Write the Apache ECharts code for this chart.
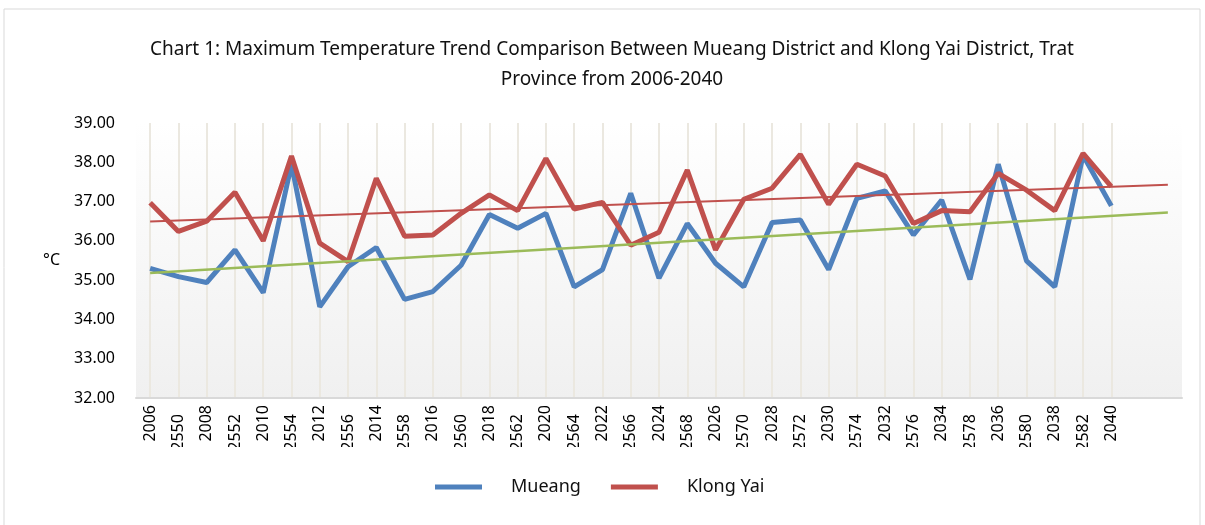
<!DOCTYPE html>
<html>
<head>
<meta charset="utf-8">
<script src="https://cdn.jsdelivr.net/npm/echarts@6/dist/echarts.min.js"></script>
<style>
  html,body{margin:0;padding:0;background:#fff;}
  #chart{width:1205px;height:525px;}
</style>
</head>
<body>
<div id="chart"></div>
<script>
var years = ['2006','2550','2008','2552','2010','2554','2012','2556','2014','2558',
             '2016','2560','2018','2562','2020','2564','2022','2566','2024','2568',
             '2026','2570','2028','2572','2030','2574','2032','2576','2034','2578',
             '2036','2580','2038','2582','2040'];
var mueang = [35.30,35.09,34.94,35.77,34.68,37.95,34.32,35.34,35.83,34.51,
              34.71,35.38,36.67,36.32,36.70,34.83,35.27,37.21,35.05,36.44,
              35.43,34.83,36.47,36.53,35.27,37.08,37.27,36.15,37.04,35.02,
              37.95,35.49,34.83,38.18,36.89];
var klongYai = [36.97,36.24,36.50,37.24,36.00,38.16,35.94,35.47,37.59,36.12,
                36.15,36.70,37.17,36.77,38.10,36.81,36.98,35.89,36.22,37.80,
                35.77,37.06,37.34,38.20,36.93,37.95,37.65,36.44,36.77,36.74,
                37.72,37.29,36.77,38.23,37.38];
// trend line ends (first category, last padded category)
var mueangTrend = [35.18, 36.72];
var klongYaiTrend = [36.49, 37.43];
var extraSlots = 2;

var cats = years.concat(new Array(extraSlots).fill(''));
function trendData(ends){
    var arr = new Array(cats.length).fill(null);
    arr[0] = ends[0];
    arr[cats.length - 1] = ends[1];
    return arr;
}

var myChart = echarts.init(document.getElementById('chart'));
var option = {
    backgroundColor: '#fff',
    animation: false,
    textStyle: { fontFamily: 'Noto Sans' },
    title: {
        text: 'Chart 1: Maximum Temperature Trend Comparison Between Mueang District and Klong Yai District, Trat\nProvince from 2006-2040',
        left: 607,
        textAlign: 'center',
        top: 30,
        textStyle: { fontSize: 19, fontWeight: 'normal', color: '#111', lineHeight: 30, fontFamily: 'Noto Sans' }
    },
    grid: {
        left: 136, right: 23, top: 123, height: 275,
        show: true, borderWidth: 0,
        backgroundColor: new echarts.graphic.LinearGradient(0, 0, 0, 1, [
            { offset: 0, color: '#ffffff' },
            { offset: 0.12, color: '#fdfdfd' },
            { offset: 1, color: '#f0f0f0' }
        ])
    },
    legend: {
        data: ['Mueang', 'Klong Yai'],
        bottom: 24,
        left: 430,
        icon: 'rect',
        itemWidth: 47,
        itemHeight: 5,
        itemGap: 30,
        textStyle: { fontSize: 18, color: '#111', padding: [0, 0, 0, 24] }
    },
    xAxis: {
        type: 'category',
        data: cats,
        boundaryGap: true,
        axisLine: { lineStyle: { color: '#d9d9d9', width: 2 } },
        axisTick: { show: false },
        splitLine: {
            show: true, alignWithLabel: true,
            interval: function (i, v) { return v !== ''; },
            lineStyle: { color: '#ebe8e0', width: 2 }
        },
        axisLabel: {
            interval: 0,
            rotate: 90,
            margin: 7,
            fontSize: 16,
            color: '#000',
            formatter: function (v, i) {
                // odd (Thai-year) labels sit a little lower and get cut off
                return (i % 2 === 1 && v) ? v + '\u2007' : v;
            }
        }
    },
    yAxis: {
        type: 'value',
        min: 32, max: 39, interval: 1,
        name: '°C',
        nameLocation: 'middle',
        nameRotate: 0,
        nameGap: 76,
        nameTextStyle: { fontSize: 16, color: '#000' },
        axisLine: { show: false },
        axisTick: { show: false },
        splitLine: { show: false },
        axisLabel: {
            fontSize: 16, color: '#000', margin: 21,
            formatter: function (v) { return v.toFixed(2); }
        }
    },
    series: [
        { name: 'Mueang', type: 'line', data: mueang, symbol: 'none',
          lineStyle: { width: 5, color: '#4f81bd' }, itemStyle: { color: '#4f81bd' } },
        { name: 'Klong Yai', type: 'line', data: klongYai, symbol: 'none',
          lineStyle: { width: 5, color: '#c0504d' }, itemStyle: { color: '#c0504d' } },
        { name: 'trendMueang', type: 'line', data: trendData(mueangTrend), connectNulls: true,
          symbol: 'none', lineStyle: { width: 2.5, color: '#9bbb59' } },
        { name: 'trendKlong', type: 'line', data: trendData(klongYaiTrend), connectNulls: true,
          symbol: 'none', lineStyle: { width: 2, color: '#c0504d' } }
    ],
    graphic: {
        elements: [
            { type: 'rect', z: 100, shape: { x: 130, y: 447, width: 1000, height: 25 },
              style: { fill: '#fff' } },
            { type: 'rect', z: 100, shape: { x: 4, y: 9, width: 1196, height: 560 },
              style: { fill: null, stroke: '#d9d9d9', lineWidth: 1 } }
        ]
    }
};
myChart.setOption(option);
</script>
</body>
</html>
